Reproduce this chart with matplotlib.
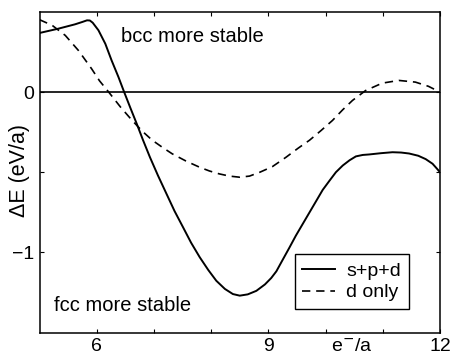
import numpy as np
import matplotlib
matplotlib.use("Agg")
import matplotlib.pyplot as plt

plt.rcParams['font.family'] = ['Liberation Sans', 'DejaVu Sans']

# bcc - fcc energy difference vs band filling (e-/atom)
x_spd = [5.0, 5.33, 5.62, 5.75, 5.83, 5.88, 5.93, 6.03, 6.15, 6.26, 6.38, 6.48,
         6.59, 6.70, 6.81, 6.93, 7.07, 7.22, 7.36, 7.51, 7.65, 7.80, 7.95, 8.09,
         8.24, 8.38, 8.50, 8.64, 8.79, 8.94, 9.05, 9.14, 9.26, 9.37, 9.48, 9.60,
         9.72, 9.84, 9.95, 10.07, 10.18, 10.30, 10.42, 10.53, 10.65, 10.76,
         10.97, 11.17, 11.32, 11.46, 11.62, 11.75, 11.87, 11.95, 12.0]
e_spd = [0.369, 0.396, 0.423, 0.438, 0.448, 0.447, 0.433, 0.386, 0.302, 0.198,
         0.094, 0.0, -0.10, -0.198, -0.30, -0.406, -0.52, -0.635, -0.742, -0.844,
         -0.94, -1.03, -1.11, -1.177, -1.228, -1.26, -1.27, -1.262, -1.24, -1.20,
         -1.16, -1.118, -1.04, -0.969, -0.896, -0.823, -0.75, -0.677, -0.61,
         -0.552, -0.50, -0.458, -0.425, -0.401, -0.392, -0.389, -0.381, -0.375,
         -0.377, -0.383, -0.397, -0.418, -0.447, -0.479, -0.5]

x_d = [5.0, 5.22, 5.45, 5.68, 5.91, 6.05, 6.21, 6.42, 6.62, 6.80, 6.97, 7.15,
       7.32, 7.56, 7.80, 7.97, 8.14, 8.32, 8.50, 8.67, 8.85, 9.07, 9.31, 9.52,
       9.72, 9.92, 10.12, 10.30, 10.47, 10.70, 10.99, 11.28, 11.57, 11.80, 12.0]
e_d = [0.452, 0.417, 0.354, 0.26, 0.146, 0.07, 0.0, -0.095, -0.177, -0.245,
       -0.30, -0.345, -0.385, -0.43, -0.469, -0.492, -0.51, -0.524, -0.531,
       -0.524, -0.50, -0.465, -0.406, -0.35, -0.30, -0.24, -0.177, -0.11,
       -0.052, 0.01, 0.056, 0.073, 0.0625, 0.036, 0.0]

fig = plt.figure(figsize=(4.51, 3.58), dpi=100)
ax = fig.add_axes([0.0876, 0.0712, 0.888, 0.8953])

ax.axhline(0, color='black', lw=1.2)
ax.plot(x_spd, e_spd, color='black', lw=1.4, label='s+p+d')
ax.plot(x_d, e_d, color='black', lw=1.2, dashes=(5, 3.5), label='d only')

ax.set_xlim(5, 12)
ax.set_ylim(-1.5, 0.5)
ax.set_xticks([6, 7, 8, 9, 10, 11, 12])
ax.set_xticklabels(['6', '', '', '9', '', '', '12'])
ax.set_yticks([-1, -0.5, 0])
ax.set_yticklabels(['\u22121', '', '0'])
ax.tick_params(direction='in', length=3, width=0.8, labelsize=14, pad=4,
               top=True, right=True)
for s in ax.spines.values():
    s.set_linewidth(1.1)

ax.set_ylabel('\u0394E (eV/a)', fontsize=15.5)
ax.yaxis.set_label_coords(-0.024, 0.507)

ax.text(10.46, -0.016, 'e$^{\u2212}$/a', transform=ax.get_xaxis_transform(),
        ha='center', va='top', fontsize=14)
ax.text(6.42, 0.344, 'bcc more stable', ha='left', va='center', fontsize=14.5)
ax.text(5.25, -1.33, 'fcc more stable', ha='left', va='center', fontsize=14.5)

leg = ax.legend(loc='lower right', bbox_to_anchor=(0.922, 0.073), fontsize=14,
                frameon=True, fancybox=False, edgecolor='black', framealpha=1,
                borderaxespad=0, handlelength=1.65, handletextpad=0.6,
                borderpad=0.4, labelspacing=0.2)
leg.get_frame().set_linewidth(1.0)

fig.savefig('out.png', dpi=100)
